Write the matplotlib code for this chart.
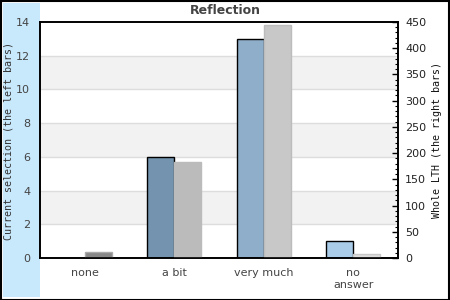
import matplotlib
matplotlib.use("Agg")
import matplotlib.pyplot as plt
from matplotlib.patches import Rectangle
from matplotlib.ticker import MultipleLocator
import numpy as np

categories = ["none", "a bit", "very much", "no\nanswer"]
left_values = [0, 6, 13, 1]
right_values = [11, 183, 444, 8]
left_colors = ["#5f7f99", "#7393ae", "#8eaec9", "#aacce8"]
right_colors = ["#888888", "#bbbbbb", "#c8c8c8", "#dddddd"]
right_edge = ["#aaaaaa", "#bbbbbb", "#bcbcbc", "#c8c8c8"]
left_ticks = [0, 2, 4, 6, 8, 10, 12, 14]
right_ticks = [0, 50, 100, 150, 200, 250, 300, 350, 400, 450]

W, H = 450, 300
fig = plt.figure(figsize=(4.5, 3), dpi=100)
fig.patch.set_facecolor("white")

# light blue panel and border
fig.patches.append(Rectangle((3 / W, 3 / H), 37 / W, 294 / H, transform=fig.transFigure,
                             facecolor="#c8e8fc", edgecolor="none", zorder=-2))
fig.patches.append(Rectangle((0.5 / W, 0.5 / H), 448.5 / W, 299 / H, transform=fig.transFigure,
                             facecolor="none", edgecolor="black", linewidth=1.5, zorder=5))

ax = fig.add_axes([40 / W, (H - 258) / H, 358 / W, 236 / H])
ax2 = ax.twinx()

x = np.arange(len(categories))
bw = 0.30
ax.set_xlim(-0.5, len(categories) - 0.5)
ax.set_ylim(0, 14)
ax2.set_ylim(0, 450)

# alternating bands
for i in range(0, 14, 2):
    if (i // 2) % 2 == 1:
        ax.axhspan(i, i + 2, facecolor="#f2f2f2", edgecolor="none", zorder=0)
for t in left_ticks[1:-1]:
    ax.axhline(t, color="#dddddd", linewidth=1, zorder=0.5)

for i in range(len(categories)):
    if left_values[i] > 0:
        ax.bar(x[i] - bw / 2, left_values[i], width=bw, color=left_colors[i],
               edgecolor="black", linewidth=1, zorder=2)
    ax2.bar(x[i] + bw / 2, right_values[i], width=bw, color=right_colors[i],
            edgecolor=right_edge[i], linewidth=1, zorder=2)

ax.set_xticks(x)
ax.set_xticklabels(categories, fontsize=8, color="#444444", linespacing=1.25)
ax.tick_params(axis="x", length=0, pad=7)
ax.set_yticks(left_ticks)
ax.set_yticklabels([str(t) for t in left_ticks], fontsize=8, color="#444444")
ax.tick_params(axis="y", length=0, pad=7)

ax2.set_yticks(right_ticks)
ax2.set_yticklabels([str(t) for t in right_ticks], fontsize=8, color="#222222")
ax2.yaxis.set_minor_locator(MultipleLocator(10))
ax2.tick_params(axis="y", which="major", direction="in", length=4, width=1, pad=5, color="black")
ax2.tick_params(axis="y", which="minor", direction="in", length=2, width=0.8, color="black")

for a in (ax, ax2):
    for s in a.spines.values():
        s.set_color("black")
        s.set_linewidth(1.2)

ax.set_ylabel("Current selection (the left bars)", fontsize=7.2, family="DejaVu Sans Mono",
              color="#333333", va="center")
ax.yaxis.set_label_coords((9 - 40) / 358, 0.497)
ax2.set_ylabel("Whole LTH (the right bars)", fontsize=7.2, family="DejaVu Sans Mono",
               color="#111111", va="center", rotation=90)
ax2.yaxis.set_label_coords((437 - 40) / 358, 0.50)

fig.text(225 / W, 1 - 11 / H, "Reflection", ha="center", va="center", fontsize=9,
         fontweight="bold", color="#444444")

fig.savefig("out.png", dpi=100)
